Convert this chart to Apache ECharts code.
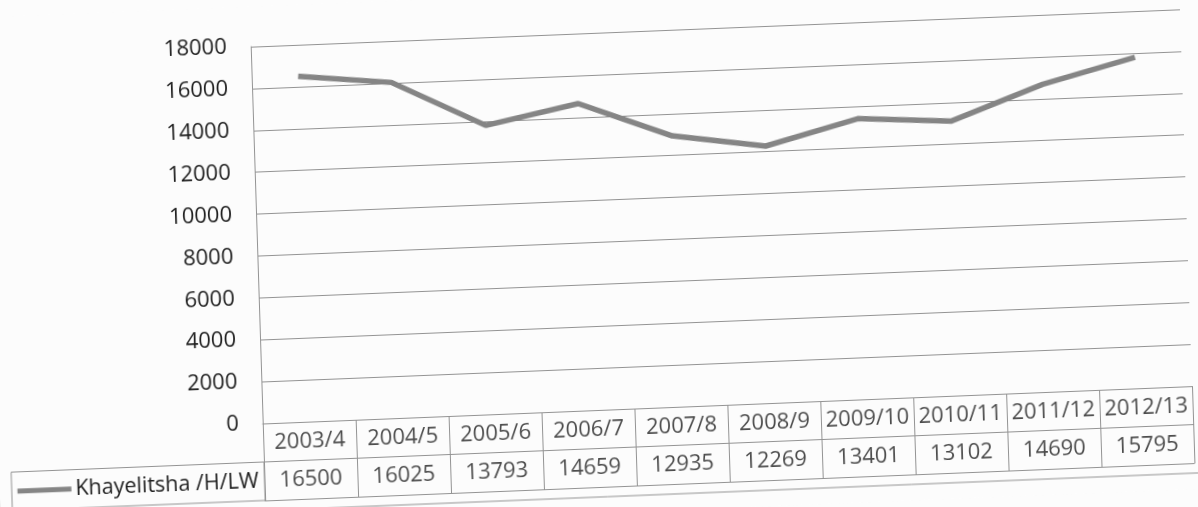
<!DOCTYPE html>
<html>
<head>
<meta charset="utf-8">
<script src="https://cdn.jsdelivr.net/npm/echarts@6/dist/echarts.min.js"></script>
<style>
  html, body {
    margin: 0;
    padding: 0;
    width: 1198px;
    height: 507px;
    overflow: hidden;
    background: #fcfcfc;
  }
  /* the scan is a little tilted, so the whole chart is turned with it */
  #main {
    position: absolute;
    left: 0;
    top: 0;
    width: 1220px;
    height: 520px;
    transform-origin: 0 0;
    transform: matrix(0.9992, -0.0402, 0.0319, 0.9995, -20.36, 17.57);
  }
</style>
</head>
<body>
<div id="main"></div>
<script>
const seriesName = "Khayelitsha /H/LW";
const years = ["2003/4", "2004/5", "2005/6", "2006/7", "2007/8", "2008/9", "2009/10", "2010/11", "2011/12", "2012/13"];
const counts = [16500, 16025, 13793, 14659, 12935, 12269, 13401, 13102, 14690, 15795];
const rows = ["years", "values"];

const lineColor = "#858585";
const rule = "#939393";
const ink = "#1e1e1e";
const font = "Open Sans";

// table cells: header row = years, second row = counts
const headerCells = years.map((y, i) => [i, "years", y]);
const valueCells = counts.map((v, i) => [i, "values", v]);

const chart = echarts.init(document.getElementById("main"));
chart.setOption({
  animation: false,
  backgroundColor: "#fcfcfc",
  textStyle: { fontFamily: font },
  grid: [
    { left: 270, top: 40, width: 930, height: 377 },
    { left: 270, top: 417, width: 930, height: 77 },
  ],
  xAxis: [
    {
      gridIndex: 0,
      type: "category",
      data: years,
      boundaryGap: true,
      axisLine: { show: true, lineStyle: { color: rule, width: 1 } },
      axisTick: { show: false },
      axisLabel: { show: false },
      splitLine: { show: false },
    },
    {
      gridIndex: 1,
      type: "category",
      data: years,
      boundaryGap: true,
      position: "bottom",
      axisLine: { show: true, lineStyle: { color: rule, width: 1 } },
      axisTick: { show: false },
      axisLabel: { show: false, interval: 0 },
      splitLine: { show: true, interval: 0, lineStyle: { color: rule, width: 1 } },
    },
  ],
  yAxis: [
    {
      gridIndex: 0,
      type: "value",
      min: 0,
      max: 18000,
      interval: 2000,
      axisLine: { show: true, lineStyle: { color: rule, width: 1 } },
      axisTick: { show: false },
      axisLabel: {
        color: ink,
        fontSize: 22,
        fontFamily: font,
        margin: 24,
        formatter: (v) => String(v),
      },
      splitLine: { show: true, lineStyle: { color: rule, width: 1 } },
    },
    {
      gridIndex: 1,
      type: "category",
      data: rows,
      inverse: true,
      axisLine: { show: true, lineStyle: { color: rule, width: 1 } },
      axisTick: { show: false },
      axisLabel: {
        interval: 0,
        margin: 6,
        formatter: (v) => (v === "values" ? "{line|}{name|" + seriesName + "}" : ""),
        rich: {
          line: { width: 54, height: 5, backgroundColor: lineColor },
          name: { fontSize: 21.5, color: ink, fontFamily: font, padding: [0, 0, 0, 4] },
        },
      },
      splitLine: { show: true, interval: 0, lineStyle: { color: rule, width: 1 } },
    },
  ],
  graphic: [
    // legend key cell to the left of the value row
    {
      type: "rect",
      silent: true,
      shape: { x: 17, y: 455.5, width: 253, height: 38.5 },
      style: { fill: "none", stroke: rule, lineWidth: 1 },
    },
    // outer chart frame (only its bottom edge falls inside the photo)
    {
      type: "rect",
      silent: true,
      shape: { x: 4, y: -40, width: 1260, height: 544 },
      style: { fill: "none", stroke: rule, lineWidth: 1 },
    },
  ],
  series: [
    {
      name: seriesName,
      type: "line",
      xAxisIndex: 0,
      yAxisIndex: 0,
      data: counts,
      symbol: "none",
      lineStyle: { color: lineColor, width: 5.5 },
      silent: true,
    },
    {
      type: "scatter",
      xAxisIndex: 1,
      yAxisIndex: 1,
      data: headerCells.concat(valueCells),
      symbolSize: 1,
      itemStyle: { color: "transparent" },
      silent: true,
      label: {
        show: true,
        position: "inside",
        color: ink,
        fontSize: 22,
        fontFamily: font,
        formatter: (p) => String(p.value[2]),
      },
    },
  ],
});
</script>
</body>
</html>
